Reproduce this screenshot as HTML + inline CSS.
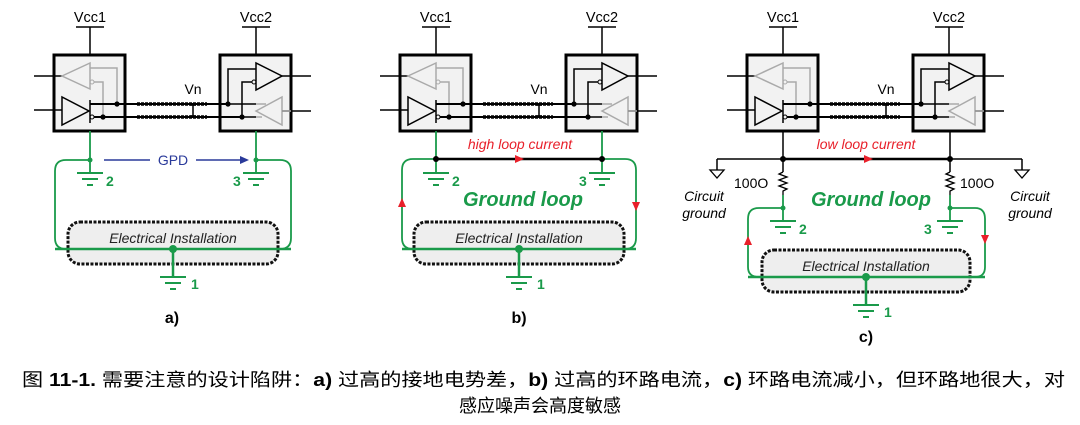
<!DOCTYPE html>
<html><head><meta charset="utf-8"><style>
html,body{margin:0;padding:0;background:#fff;width:1080px;height:425px;overflow:hidden}
svg{display:block}
text{font-family:"Liberation Sans","Noto Sans CJK SC",sans-serif}
</style></head><body>
<svg width="1080" height="425" viewBox="0 0 1080 425" xmlns="http://www.w3.org/2000/svg">
<defs>
<g id="tx" fill="none">
  <text x="90" y="22" font-size="14.5" fill="#000" text-anchor="middle">Vcc1</text>
  <text x="256" y="22" font-size="14.5" fill="#000" text-anchor="middle">Vcc2</text>
  <path d="M76 27H104M90 27V55M242 27H270M256 27V55" stroke="#000" stroke-width="1.5"/>
  <rect x="54" y="55" width="71" height="76" fill="#f2f2f2" stroke="#000" stroke-width="3"/>
  <rect x="220" y="55" width="71" height="76" fill="#f2f2f2" stroke="#000" stroke-width="3"/>
  <path d="M34 76H62M34 110H62" stroke="#000" stroke-width="1.5"/>
  <polygon points="62,76 90,63 90,89" stroke="#aaa" stroke-width="1.5"/>
  <path d="M90 68H117V104M94 82H103V117" stroke="#aaa" stroke-width="1.5"/>
  <circle cx="92" cy="82" r="2" stroke="#aaa"/>
  <polygon points="62,97 62,125 89,111" stroke="#000" stroke-width="1.5"/>
  <path d="M90 100V123" stroke="#000" stroke-width="1.5"/>
  <circle cx="92" cy="117" r="2" stroke="#000"/>
  <path d="M90 104H228M94 117H242" stroke="#000" stroke-width="2"/>
  <path d="M137 104H207M137 117H207" stroke="#000" stroke-width="3.5" stroke-dasharray="3 1"/>
  <path d="M228 104V69H256M242 117V82H252M228 104H256M242 117H256" stroke="#000" stroke-width="1.5"/>
  <circle cx="254" cy="82" r="2" stroke="#000" fill="#f2f2f2"/>
  <polygon points="256,63 256,90 282,76" stroke="#000" stroke-width="1.5"/>
  <path d="M282 76H311" stroke="#000" stroke-width="1.5"/>
  <polygon points="256,111 282,97 282,125" stroke="#aaa" stroke-width="1.5"/>
  <path d="M282 111H311" stroke="#000" stroke-width="1.5"/>
  <path d="M282 111H291M256 104H266M256 117H262" stroke="#aaa" stroke-width="1.5"/>
  <circle cx="117" cy="104" r="2.6" fill="#000"/><circle cx="103" cy="117" r="2.6" fill="#000"/>
  <circle cx="228" cy="104" r="2.6" fill="#000"/><circle cx="242" cy="117" r="2.6" fill="#000"/>
  <text x="193" y="94" font-size="14" fill="#000" text-anchor="middle">Vn</text>
  <path d="M193 105V116M190 105H196M190 116H196" stroke="#000" stroke-width="1.5"/>
</g>
<g id="gnd" stroke="#1a9a4a" stroke-width="2">
  <path d="M-13 0H13M-8 6H8M-3 12H3"/>
</g>
</defs>

<use href="#tx"/>
<g fill="none" stroke="#1a9a4a" stroke-width="1.8">
  <path d="M90 131V172M256 131V172"/>
  <path d="M90 160H66Q55 160 55 171V238Q55 249 66 249H280Q291 249 291 238V171Q291 160 280 160H256"/>
</g>
<rect x="68" y="222" width="210" height="42" rx="12" fill="#eee" stroke="#111" stroke-width="3" stroke-dasharray="3 1.5"/>
<path d="M55 249H291" stroke="#1a9a4a" stroke-width="2.5" fill="none"/>
<path d="M173 249V276" stroke="#1a9a4a" stroke-width="2.5"/>
<circle cx="173" cy="249" r="4" fill="#1a9a4a"/>
<circle cx="90" cy="160" r="2.5" fill="#1a9a4a"/><circle cx="256" cy="160" r="2.5" fill="#1a9a4a"/>
<use href="#gnd" x="90" y="173"/><use href="#gnd" x="256" y="173"/><use href="#gnd" x="173" y="277"/>
<text x="173" y="243" font-size="14" font-style="italic" fill="#222" text-anchor="middle">Electrical Installation</text>
<text x="106" y="186" font-size="14" font-weight="bold" fill="#1a9a4a">2</text>
<text x="233" y="186" font-size="14" font-weight="bold" fill="#1a9a4a">3</text>
<text x="191" y="289" font-size="14" font-weight="bold" fill="#1a9a4a">1</text>
<path d="M104 160H240" stroke="#2a3a9a" stroke-width="1.5"/>
<rect x="150" y="150" width="46" height="18" fill="#fff"/>
<text x="173" y="165" font-size="14" fill="#2a3a9a" text-anchor="middle">GPD</text>
<polygon points="249,160 240,156 240,164" fill="#2a3a9a"/>
<text x="172" y="323" font-size="16" font-weight="bold" text-anchor="middle">a)</text>

<use href="#tx" x="346"/>
<g fill="none" stroke="#1a9a4a" stroke-width="1.8">
  <path d="M436 131V172M602 131V172"/>
  <path d="M436 159H413Q402 159 402 170V238Q402 249 413 249H625Q636 249 636 238V170Q636 159 625 159H602"/>
</g>
<path d="M436 159H602" stroke="#000" stroke-width="2.5"/>
<polygon points="524,159 515,155 515,163" fill="#e8202a"/>
<rect x="414" y="222" width="210" height="42" rx="12" fill="#eee" stroke="#111" stroke-width="3" stroke-dasharray="3 1.5"/>
<path d="M402 249H636" stroke="#1a9a4a" stroke-width="2.5"/>
<path d="M519 249V276" stroke="#1a9a4a" stroke-width="2.5"/>
<circle cx="519" cy="249" r="4" fill="#1a9a4a"/>
<circle cx="436" cy="159" r="3" fill="#000"/><circle cx="602" cy="159" r="3" fill="#000"/>
<use href="#gnd" x="436" y="173"/><use href="#gnd" x="602" y="173"/><use href="#gnd" x="519" y="277"/>
<text x="519" y="243" font-size="14" font-style="italic" fill="#222" text-anchor="middle">Electrical Installation</text>
<text x="452" y="186" font-size="14" font-weight="bold" fill="#1a9a4a">2</text>
<text x="579" y="186" font-size="14" font-weight="bold" fill="#1a9a4a">3</text>
<text x="537" y="289" font-size="14" font-weight="bold" fill="#1a9a4a">1</text>
<text x="520" y="149" font-size="14" font-style="italic" fill="#e8202a" text-anchor="middle">high loop current</text>
<text x="523" y="206" font-size="20" font-style="italic" font-weight="bold" fill="#1a9a4a" text-anchor="middle">Ground loop</text>
<polygon points="402,198 398,207 406,207" fill="#e8202a"/>
<polygon points="636,211 632,202 640,202" fill="#e8202a"/>
<text x="519" y="323" font-size="16" font-weight="bold" text-anchor="middle">b)</text>

<use href="#tx" x="693"/>
<path d="M783 131V172M950 131V172M717 159H1022M717 159V170M1022 159V170" stroke="#000" stroke-width="1.5" fill="none"/>
<path d="M783 159H950" stroke="#000" stroke-width="2.5"/>
<polygon points="710,170 724,170 717,178" fill="#fff" stroke="#000" stroke-width="1.3"/>
<polygon points="1015,170 1029,170 1022,178" fill="#fff" stroke="#000" stroke-width="1.3"/>
<polygon points="873,159 864,155 864,163" fill="#e8202a"/>
<circle cx="783" cy="159" r="3" fill="#000"/><circle cx="950" cy="159" r="3" fill="#000"/>
<path d="M783 172L779 174L787 177L779 180L787 183L779 186L787 189L783 191V195M950 172L946 174L954 177L946 180L954 183L946 186L954 189L950 191V195" stroke="#000" stroke-width="1.3" fill="none"/>
<g fill="none" stroke="#1a9a4a" stroke-width="1.8">
  <path d="M783 195V220M950 195V220"/>
  <path d="M783 208H759Q748 208 748 219V267Q748 277 759 277H975Q985 277 985 267V219Q985 208 975 208H950"/>
</g>
<rect x="762" y="250" width="208" height="42" rx="12" fill="#eee" stroke="#111" stroke-width="3" stroke-dasharray="3 1.5"/>
<path d="M748 277H985" stroke="#1a9a4a" stroke-width="2.5"/>
<path d="M866 277V304" stroke="#1a9a4a" stroke-width="2.5"/>
<circle cx="866" cy="277" r="4" fill="#1a9a4a"/>
<circle cx="783" cy="208" r="2.5" fill="#1a9a4a"/><circle cx="950" cy="208" r="2.5" fill="#1a9a4a"/>
<use href="#gnd" x="783" y="221"/><use href="#gnd" x="950" y="221"/><use href="#gnd" x="866" y="305"/>
<text x="866" y="271" font-size="14" font-style="italic" fill="#222" text-anchor="middle">Electrical Installation</text>
<text x="799" y="234" font-size="14" font-weight="bold" fill="#1a9a4a">2</text>
<text x="924" y="234" font-size="14" font-weight="bold" fill="#1a9a4a">3</text>
<text x="884" y="317" font-size="14" font-weight="bold" fill="#1a9a4a">1</text>
<text x="866" y="149" font-size="14" font-style="italic" fill="#e8202a" text-anchor="middle">low loop current</text>
<text x="871" y="206" font-size="20" font-style="italic" font-weight="bold" fill="#1a9a4a" text-anchor="middle">Ground loop</text>
<text x="734" y="188" font-size="14" fill="#000">100O</text>
<text x="960" y="188" font-size="14" fill="#000">100O</text>
<text x="704" y="201" font-size="14" font-style="italic" fill="#000" text-anchor="middle">Circuit</text>
<text x="704" y="218" font-size="14" font-style="italic" fill="#000" text-anchor="middle">ground</text>
<text x="1030" y="201" font-size="14" font-style="italic" fill="#000" text-anchor="middle">Circuit</text>
<text x="1030" y="218" font-size="14" font-style="italic" fill="#000" text-anchor="middle">ground</text>
<polygon points="748,236 744,245 752,245" fill="#e8202a"/>
<polygon points="985,244 981,235 989,235" fill="#e8202a"/>
<text x="866" y="342" font-size="16" font-weight="bold" text-anchor="middle">c)</text>

<text x="22" y="386" font-size="18" fill="#000" textLength="1043" lengthAdjust="spacingAndGlyphs">图 <tspan font-weight="bold">11-1.</tspan> 需要注意的设计陷阱：<tspan font-weight="bold">a)</tspan> 过高的接地电势差，<tspan font-weight="bold">b)</tspan> 过高的环路电流，<tspan font-weight="bold">c)</tspan> 环路电流减小，但环路地很大，对</text>
<text x="540" y="412" font-size="18" fill="#000" text-anchor="middle">感应噪声会高度敏感</text>
</svg>
</body></html>
